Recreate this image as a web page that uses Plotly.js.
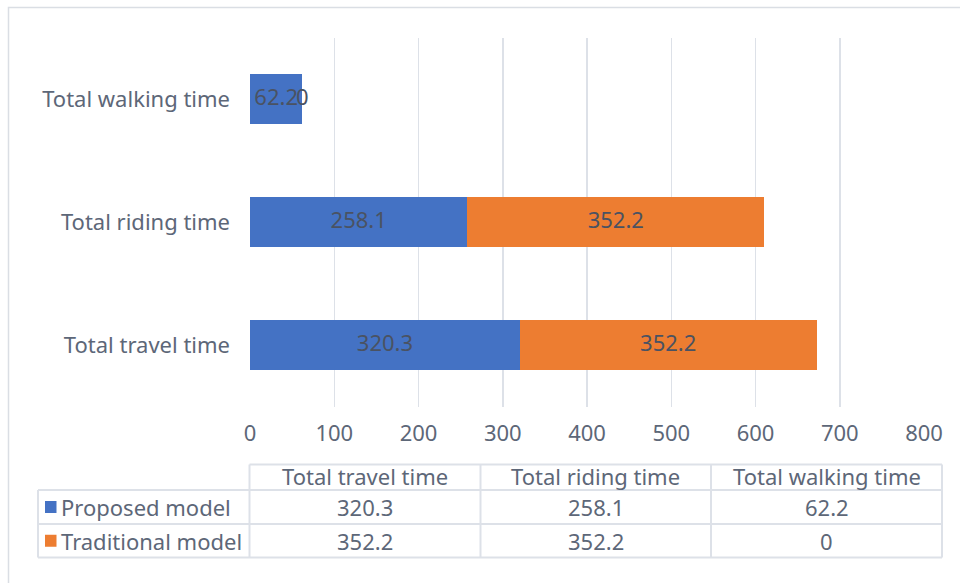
<!DOCTYPE html>
<html>
<head>
<meta charset="utf-8">
<script src="https://cdn.plot.ly/plotly-3.0.1.min.js"></script>
<style>html,body{margin:0;padding:0;background:#fff;}#chart{width:960px;height:583px;}</style>
</head>
<body>
<div id="chart"></div>
<script>
// ---- data ----
const categories = ['Total travel time', 'Total riding time', 'Total walking time'];
const proposed = [320.3, 258.1, 62.2];
const traditional = [352.2, 352.2, 0];
const seriesNames = ['Proposed model', 'Traditional model'];
const xTicks = [0, 100, 200, 300, 400, 500, 600, 700, 800];

// ---- styling ----
const W = 960, H = 583;
const FONT = 'Noto Sans, DejaVu Sans, sans-serif';
const FS = 22;
const TXT = '#5d6778';
const LBL = '#4a5262';
const BLUE = '#4472C4', ORANGE = '#ED7D31';
const GRID = '#dde1e8';
const px = x => x / W;
const py = y => 1 - y / H;

const traces = [
  {type: 'bar', orientation: 'h', name: seriesNames[0], y: categories, x: proposed,
   marker: {color: BLUE}, hoverinfo: 'x+y'},
  {type: 'bar', orientation: 'h', name: seriesNames[1], y: categories, x: traditional,
   marker: {color: ORANGE}, hoverinfo: 'x+y'},
  {type: 'scatter', mode: 'text', y: categories, x: proposed.map(v => v / 2),
   text: proposed.map(String), textfont: {family: FONT, size: FS, color: LBL},
   cliponaxis: false, showlegend: false, hoverinfo: 'skip'},
  {type: 'scatter', mode: 'text', y: categories, x: traditional.map((v, i) => proposed[i] + v / 2),
   text: traditional.map(String), textfont: {family: FONT, size: FS, color: LBL},
   cliponaxis: false, showlegend: false, hoverinfo: 'skip'}
];

// ---- data table below the chart ----
const colX = [249.5, 480.5, 711, 942];
const legX = 38;
const rowY = [464.5, 490, 524, 557.5];
const lineStyle = {color: GRID, width: 2};
const shapes = [];
const annotations = [];
// outer chart border
shapes.push({type: 'rect', xref: 'paper', yref: 'paper', x0: px(8.5), x1: px(975), y0: py(7.5), y1: py(600),
  line: {color: '#dadee4', width: 1.5}, fillcolor: 'rgba(0,0,0,0)', layer: 'below'});
// horizontal lines
shapes.push({type: 'line', xref: 'paper', yref: 'paper', x0: px(colX[0]), x1: px(colX[3]), y0: py(rowY[0]), y1: py(rowY[0]), line: lineStyle});
for (let r = 1; r < rowY.length; r++) {
  shapes.push({type: 'line', xref: 'paper', yref: 'paper', x0: px(legX), x1: px(colX[3]), y0: py(rowY[r]), y1: py(rowY[r]), line: lineStyle});
}
// vertical lines
shapes.push({type: 'line', xref: 'paper', yref: 'paper', x0: px(legX), x1: px(legX), y0: py(rowY[1]), y1: py(rowY[3]), line: lineStyle});
colX.forEach(x => shapes.push({type: 'line', xref: 'paper', yref: 'paper', x0: px(x), x1: px(x), y0: py(rowY[0]), y1: py(rowY[3]), line: lineStyle}));

const cellFont = {family: FONT, size: FS, color: TXT};
categories.forEach((c, i) => {
  const cx = (colX[i] + colX[i + 1]) / 2;
  annotations.push({xref: 'paper', yref: 'paper', x: px(cx), y: py((rowY[0] + rowY[1]) / 2 - 1), text: c, showarrow: false,
    xanchor: 'center', yanchor: 'middle', font: cellFont});
  annotations.push({xref: 'paper', yref: 'paper', x: px(cx), y: py((rowY[1] + rowY[2]) / 2), text: String(proposed[i]), showarrow: false,
    xanchor: 'center', yanchor: 'middle', font: cellFont});
  annotations.push({xref: 'paper', yref: 'paper', x: px(cx), y: py((rowY[2] + rowY[3]) / 2), text: String(traditional[i]), showarrow: false,
    xanchor: 'center', yanchor: 'middle', font: cellFont});
});
[BLUE, ORANGE].forEach((col, i) => {
  const cy = (rowY[i + 1] + rowY[i + 2]) / 2;
  shapes.push({type: 'rect', xref: 'paper', yref: 'paper', x0: px(45), x1: px(56.5), y0: py(cy - 6), y1: py(cy + 6),
    line: {width: 0}, fillcolor: col});
  annotations.push({xref: 'paper', yref: 'paper', x: px(59), y: py(cy), text: seriesNames[i], showarrow: false,
    xanchor: 'left', yanchor: 'middle', font: cellFont});
});

const layout = {
  width: W, height: H,
  margin: {l: 0, r: 0, t: 0, b: 0, pad: 0},
  paper_bgcolor: '#ffffff', plot_bgcolor: '#ffffff',
  barmode: 'stack', bargap: 0.593,
  showlegend: false,
  font: {family: FONT, color: TXT, size: FS},
  xaxis: {domain: [px(250), px(924)], range: [0, 800], tickvals: xTicks, ticktext: xTicks.map(String),
    showgrid: true, gridcolor: GRID, gridwidth: 1.5, zeroline: false, showline: false, ticks: '',
    tickfont: {family: FONT, size: FS, color: TXT}, ticklabelstandoff: 11, automargin: false, fixedrange: true},
  yaxis: {domain: [py(406.5), py(37.5)], type: 'category', categoryorder: 'array', categoryarray: categories,
    range: [-0.5, 2.5], showgrid: false, zeroline: false, showline: false, ticks: '',
    tickfont: {family: FONT, size: FS, color: TXT}, ticklabelstandoff: 19, automargin: false, fixedrange: true},
  shapes: shapes,
  annotations: annotations
};

Plotly.newPlot('chart', traces, layout, {displayModeBar: false, staticPlot: true});
</script>
</body>
</html>
